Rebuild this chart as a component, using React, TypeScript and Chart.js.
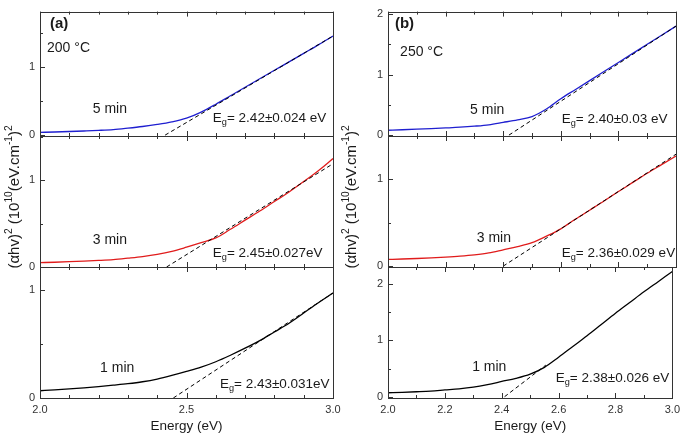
import React, { useEffect, useRef } from "react";
import { Chart, registerables } from "chart.js";
Chart.register(...registerables);

const FONT = '"Liberation Sans", Arial, Helvetica, sans-serif';
const W = 685;
const H = 434;

// ---------------- data ----------------
const energy = [2.0, 2.05, 2.1, 2.15, 2.2, 2.25, 2.3, 2.35, 2.4, 2.45, 2.5, 2.55, 2.6, 2.65, 2.7, 2.75, 2.8, 2.85, 2.9, 2.95, 3.0];

// 200 °C
const a5min = [0.040, 0.046, 0.053, 0.061, 0.070, 0.082, 0.103, 0.127, 0.157, 0.195, 0.25, 0.34, 0.455, 0.58, 0.705, 0.83, 0.955, 1.08, 1.205, 1.33, 1.46];
const a3min = [0.050, 0.055, 0.061, 0.068, 0.076, 0.086, 0.102, 0.12, 0.145, 0.18, 0.228, 0.28, 0.335, 0.435, 0.54, 0.645, 0.755, 0.865, 0.985, 1.11, 1.25];
const a1min = [0.067, 0.075, 0.084, 0.094, 0.105, 0.118, 0.132, 0.15, 0.175, 0.208, 0.245, 0.285, 0.335, 0.395, 0.46, 0.53, 0.61, 0.69, 0.785, 0.88, 0.97];
// 250 °C
const b5min = [0.080, 0.088, 0.097, 0.107, 0.118, 0.13, 0.147, 0.17, 0.21, 0.252, 0.305, 0.43, 0.60, 0.75, 0.90, 1.05, 1.20, 1.35, 1.50, 1.65, 1.80];
const b3min = [0.077, 0.082, 0.088, 0.095, 0.104, 0.115, 0.13, 0.152, 0.188, 0.225, 0.27, 0.345, 0.43, 0.54, 0.645, 0.75, 0.86, 0.965, 1.07, 1.17, 1.27];
const b1min = [0.070, 0.078, 0.088, 0.100, 0.12, 0.14, 0.17, 0.215, 0.27, 0.325, 0.40, 0.52, 0.70, 0.89, 1.08, 1.28, 1.48, 1.67, 1.86, 2.04, 2.22];

// linear (Tauc) fits: energy endpoints / values
const a5fitE = [2.427, 3.0];
const a5fitY = [0, 1.46];
const a3fitE = [2.432, 3.0];
const a3fitY = [0, 1.19];
const a1fitE = [2.455, 3.0];
const a1fitY = [0, 0.97];
const b5fitE = [2.42, 3.0];
const b5fitY = [0, 1.8];
const b3fitE = [2.40, 3.0];
const b3fitY = [0, 1.29];
const b1fitE = [2.41, 2.555];
const b1fitY = [0, 0.56];

const timeLabels = ["5 min", "3 min", "1 min"];
const gapA = ["2.42±0.024 eV", "2.45±0.027eV", "2.43±0.031eV"];
const gapB = ["2.40±0.03 eV", "2.36±0.029 eV", "2.38±0.026 eV"];
const panelTags = ["(a)", "(b)"];
const tempLabels = ["200 °C", "250 °C"];

// ---------------- layout ----------------
const YW = 30;
const XH = 36;
const cols = [
  { left: 40, right: 333, majorStep: 0.5, titleX: 15 },
  { left: 388, right: 676, majorStep: 0.2, titleX: 352 },
];
const rows = [
  { top: 4, bottom: 136 },
  { top: 136, bottom: 267 },
  { top: 267, bottom: 398 },
];

type Seg = { t: string; sub?: boolean; sup?: boolean };
type Txt = { segs: Seg[]; x: number; y: number; size: number; bold?: boolean };

const eg = (v: string): Seg[] => [{ t: "E" }, { t: "g", sub: true }, { t: "= " + v }];

type PanelCfg = {
  col: number; row: number; curve: number[]; color: string;
  fitE: number[]; fitY: number[]; yMin: number; yMax: number; texts: Txt[];
};

const panels: PanelCfg[] = [
  { col: 0, row: 0, curve: a5min, color: "#1f1fd0", fitE: a5fitE, fitY: a5fitY, yMin: -0.013, yMax: 1.82,
    texts: [
      { segs: [{ t: panelTags[0] }], x: 2.034, y: 1.64, size: 15, bold: true },
      { segs: [{ t: tempLabels[0] }], x: 2.024, y: 1.28, size: 14 },
      { segs: [{ t: timeLabels[0] }], x: 2.18, y: 0.39, size: 14 },
      { segs: eg(gapA[0]), x: 2.59, y: 0.25, size: 13.5 },
    ] },
  { col: 0, row: 1, curve: a3min, color: "#e01c1c", fitE: a3fitE, fitY: a3fitY, yMin: 0, yMax: 1.51,
    texts: [
      { segs: [{ t: timeLabels[1] }], x: 2.18, y: 0.31, size: 14 },
      { segs: eg(gapA[1]), x: 2.59, y: 0.155, size: 13.5 },
    ] },
  { col: 0, row: 2, curve: a1min, color: "#000000", fitE: a1fitE, fitY: a1fitY, yMin: 0, yMax: 1.21,
    texts: [
      { segs: [{ t: timeLabels[2] }], x: 2.205, y: 0.28, size: 14 },
      { segs: eg(gapA[2]), x: 2.614, y: 0.128, size: 13.5 },
    ] },
  { col: 1, row: 0, curve: b5min, color: "#1f1fd0", fitE: b5fitE, fitY: b5fitY, yMin: -0.015, yMax: 2.04,
    texts: [
      { segs: [{ t: panelTags[1] }], x: 2.024, y: 1.84, size: 15, bold: true },
      { segs: [{ t: tempLabels[1] }], x: 2.042, y: 1.37, size: 14 },
      { segs: [{ t: timeLabels[0] }], x: 2.285, y: 0.42, size: 14 },
      { segs: eg(gapB[0]), x: 2.603, y: 0.26, size: 13.5 },
    ] },
  { col: 1, row: 1, curve: b3min, color: "#e01c1c", fitE: b3fitE, fitY: b3fitY, yMin: -0.01, yMax: 1.5,
    texts: [
      { segs: [{ t: timeLabels[1] }], x: 2.308, y: 0.32, size: 14 },
      { segs: eg(gapB[1]), x: 2.603, y: 0.147, size: 13.5 },
    ] },
  { col: 1, row: 2, curve: b1min, color: "#000000", fitE: b1fitE, fitY: b1fitY, yMin: -0.023, yMax: 2.3,
    texts: [
      { segs: [{ t: timeLabels[2] }], x: 2.296, y: 0.53, size: 14 },
      { segs: eg(gapB[2]), x: 2.59, y: 0.33, size: 13.5 },
    ] },
];

const yTitle: Seg[] = [
  { t: "(αhv)" }, { t: "2", sup: true }, { t: " (10" }, { t: "10", sup: true },
  { t: "(eV.cm" }, { t: "-1", sup: true }, { t: ")" }, { t: "2", sup: true },
];

function segWidth(ctx: CanvasRenderingContext2D, segs: Seg[], size: number, bold?: boolean) {
  let w = 0;
  for (const s of segs) {
    const fs = s.sub || s.sup ? size * 0.68 : size;
    ctx.font = `${bold ? "bold " : ""}${fs}px ${FONT}`;
    w += ctx.measureText(s.t).width;
  }
  return w;
}

function drawRich(ctx: CanvasRenderingContext2D, segs: Seg[], x: number, y: number, size: number, bold?: boolean) {
  let cx = x;
  ctx.textBaseline = "middle";
  ctx.textAlign = "left";
  for (const s of segs) {
    const fs = s.sub || s.sup ? size * 0.68 : size;
    ctx.font = `${bold ? "bold " : ""}${fs}px ${FONT}`;
    const dy = s.sub ? size * 0.32 : s.sup ? -size * 0.36 : 0;
    ctx.fillText(s.t, cx, y + dy);
    cx += ctx.measureText(s.t).width;
  }
}

const near = (v: number, step: number) => Math.abs(v / step - Math.round(v / step)) < 1e-6;

function PanelChart({ cfg }: { cfg: PanelCfg }) {
  const ref = useRef<HTMLCanvasElement | null>(null);
  useEffect(() => {
    if (!ref.current) return;
    const col = cols[cfg.col];
    const row = rows[cfg.row];
    const isBottom = cfg.row === 2;
    const xh = isBottom ? XH : 0;

    const deco = {
      id: "deco",
      afterDraw(chart: any) {
        const ctx: CanvasRenderingContext2D = chart.ctx;
        const { left, right, top, bottom } = chart.chartArea;
        const xs = chart.scales.x;
        const ys = chart.scales.y;
        ctx.save();
        ctx.strokeStyle = "#333";
        ctx.lineWidth = 1;
        ctx.strokeRect(Math.round(left) + 0.5, Math.round(top) + 0.5, Math.round(right - left), Math.round(bottom - top));
        ctx.beginPath();
        for (const t of xs.ticks) {
          const px = Math.round(xs.getPixelForValue(t.value)) + 0.5;
          const len = near(t.value, col.majorStep) ? 5 : 3;
          ctx.moveTo(px, bottom);
          ctx.lineTo(px, bottom - len);
          ctx.moveTo(px, top);
          ctx.lineTo(px, top + len);
        }
        for (const t of ys.ticks) {
          const py = Math.round(ys.getPixelForValue(t.value)) + 0.5;
          const len = near(t.value, 1) ? 5 : 3;
          ctx.moveTo(left, py);
          ctx.lineTo(left + len, py);
        }
        ctx.stroke();
        ctx.fillStyle = "#1a1a1a";
        for (const tx of cfg.texts) {
          drawRich(ctx, tx.segs, xs.getPixelForValue(tx.x), ys.getPixelForValue(tx.y), tx.size, tx.bold);
        }
        if (cfg.row === 1) {
          const cx = col.titleX;
          const cy = 197;
          const size = 15;
          ctx.translate(cx, cy);
          ctx.rotate(-Math.PI / 2);
          const w = segWidth(ctx, yTitle, size);
          drawRich(ctx, yTitle, -w / 2, 0, size);
        }
        ctx.restore();
      },
    };

    const chart = new Chart(ref.current, {
      type: "line",
      data: {
        datasets: [
          {
            data: cfg.fitE.map((e, i) => ({ x: e, y: cfg.fitY[i] })),
            borderColor: "#000",
            borderWidth: 1,
            borderDash: [4, 3],
            pointRadius: 0,
            order: 0,
          },
          {
            data: energy.map((e, i) => ({ x: e, y: cfg.curve[i] })),
            borderColor: cfg.color,
            borderWidth: 1.3,
            pointRadius: 0,
            cubicInterpolationMode: "monotone",
            order: 1,
          },
        ],
      },
      options: {
        animation: false,
        responsive: false,
        events: [],
        layout: {
          autoPadding: false,
          padding: { left: col.left - YW, right: W - col.right, top: row.top, bottom: H - row.bottom - xh },
        },
        plugins: { legend: { display: false }, tooltip: { enabled: false } },
        scales: {
          x: {
            type: "linear",
            min: 2,
            max: 3,
            grid: { display: false, drawTicks: false },
            border: { display: false },
            ticks: {
              display: isBottom,
              count: 11,
              autoSkip: false,
              maxRotation: 0,
              padding: 5,
              color: "#333",
              font: { family: FONT, size: 11 },
              callback: (v: any) => (near(Number(v), col.majorStep) ? Number(v).toFixed(1) : ""),
            },
            title: {
              display: isBottom,
              text: "Energy (eV)",
              color: "#1a1a1a",
              font: { family: FONT, size: 13.5 },
              padding: { top: 0, bottom: 0 },
            },
            afterFit: (s: any) => { s.height = xh; },
          },
          y: {
            type: "linear",
            min: cfg.yMin,
            max: cfg.yMax,
            grid: { display: false, drawTicks: false },
            border: { display: false },
            ticks: {
              stepSize: 0.5,
              includeBounds: false,
              autoSkip: false,
              padding: 5,
              color: "#333",
              font: { family: FONT, size: 11 },
              callback: (v: any) => (near(Number(v), 1) ? String(Math.round(Number(v))) : ""),
            },
            afterFit: (s: any) => { s.width = YW; },
          },
        },
      },
      plugins: [deco],
    } as any);
    return () => chart.destroy();
  }, [cfg]);
  return (
    <canvas
      ref={ref}
      width={W}
      height={H}
      style={{ position: "absolute", left: 0, top: 0, width: W, height: H }}
    />
  );
}

export default function App() {
  return (
    <div style={{ position: "absolute", left: 0, top: 0, width: W, height: H, background: "#fff" }}>
      {panels.map((p, i) => (
        <PanelChart key={i} cfg={p} />
      ))}
    </div>
  );
}
